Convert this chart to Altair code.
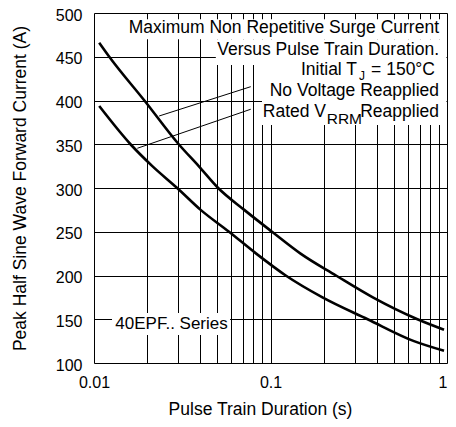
import altair as alt
import pandas as pd

# ---- data ----
x_grid = [0.01, 0.02, 0.03, 0.04, 0.05, 0.06, 0.07, 0.08, 0.09,
          0.1, 0.2, 0.3, 0.4, 0.5, 0.6, 0.7, 0.8, 0.9, 1]
x_label_values = [0.01, 0.1, 1]
x_label_texts = ["0.01", "0.1", "1"]
y_ticks = [100, 150, 200, 250, 300, 350, 400, 450, 500]

# No Voltage Reapplied (upper curve)
upper_x = [0.0107, 0.0122, 0.0193, 0.0302, 0.0392, 0.0505, 0.071, 0.102,
           0.148, 0.235, 0.38, 0.68, 0.962]
upper_y = [466, 450, 400, 350, 325, 300, 275, 250, 225, 200, 175, 150, 138]

# Rated VRRM Reapplied (lower curve)
lower_x = [0.0107, 0.0161, 0.0214, 0.0296, 0.0402, 0.0582, 0.083,
           0.122, 0.197, 0.355, 0.65, 0.962]
lower_y = [393.7, 350, 325, 300, 275, 250, 225, 200, 175, 150, 125, 114]

# leader lines (from curve to label)
leader_x = [0.0234, 0.0176]
leader_x2 = [0.0773, 0.0773]
leader_y = [382.3, 345.4]
leader_y2 = [415.8, 390.0]

# white label backgrounds
box_x = [0.0155, 0.049, 0.0895, 0.01265]
box_x2 = [0.993, 0.993, 0.993, 0.059]
box_y = [470, 440.6, 372, 132]
box_y2 = [493, 470, 440.6, 157.1]

FONT = "Liberation Sans"

curves = pd.DataFrame({
    "x": upper_x + lower_x,
    "y": upper_y + lower_y,
    "series": ["No Voltage Reapplied"] * len(upper_x) + ["Rated VRRM Reapplied"] * len(lower_x),
})
leaders = pd.DataFrame({"x": leader_x, "x2": leader_x2, "y": leader_y, "y2": leader_y2})
boxes = pd.DataFrame({"x": box_x, "x2": box_x2, "y": box_y, "y2": box_y2})

label_expr = " : ".join(
    f"datum.value == {v} ? '{t}'" for v, t in zip(x_label_values, x_label_texts)
) + " : ''"

X = alt.X("x:Q",
          scale=alt.Scale(type="log", domain=[0.01, 1]),
          axis=alt.Axis(values=x_grid, labelExpr=label_expr, labelFlush=False,
                        labelOverlap=False, ticks=False, domain=False,
                        labelAlign={"condition": {"test": f"datum.value == {x_label_values[-1]}",
                                                  "value": "right"},
                                    "value": "center"},
                        grid=True, gridColor="black", gridOpacity=1, gridWidth=1,
                        labelFont=FONT, labelFontSize=16, labelColor="black",
                        labelPadding=11,
                        title="Pulse Train Duration (s)", titleFont=FONT,
                        titleFontSize=17.5, titleFontWeight="normal",
                        titleColor="black", titlePadding=10, titleX=166))
Y = alt.Y("y:Q",
          scale=alt.Scale(domain=[100, 500]),
          axis=alt.Axis(values=y_ticks, ticks=False, domain=False,
                        grid=True, gridColor="black", gridOpacity=1, gridWidth=1,
                        labelFont=FONT, labelFontSize=16, labelColor="black",
                        labelPadding=12, labelOffset=2,
                        title="Peak Half Sine Wave Forward Current (A)",
                        titleFont=FONT, titleFontSize=17.5,
                        titleFontWeight="normal", titleColor="black",
                        titlePadding=26))

lines = alt.Chart(curves).mark_line(color="black", strokeWidth=2.6,
                                    interpolate="monotone").encode(
    x=X, y=Y, detail="series:N")

rects = alt.Chart(boxes).mark_rect(color="white", opacity=1).encode(
    x=X, x2="x2:Q", y=Y, y2="y2:Q")

rules = alt.Chart(leaders).mark_rule(color="black", strokeWidth=1).encode(
    x=X, x2="x2:Q", y=Y, y2="y2:Q")


def txt(text, x, y, align="right", dx=0, dy=0, size=17.5, baseline="alphabetic"):
    df = pd.DataFrame({"x": [x], "y": [y], "t": [text]})
    return alt.Chart(df).mark_text(
        align=align, baseline=baseline, dx=dx, dy=dy, font=FONT,
        fontSize=size, color="black").encode(x=X, y=Y, text="t:N")


texts = [
    txt("Maximum Non Repetitive Surge Current", 1, 476.8, dx=-8),
    txt("Versus Pulse Train Duration.", 1, 452.0, dx=-8),
    txt("= 150°C", 1, 429.1, dx=-12),
    txt("J", 1, 429.1, dx=-82, dy=5, size=12),
    txt("Initial T", 1, 429.1, dx=-90),
    txt("No Voltage Reapplied", 1, 405.1, dx=-8),
    txt("Reapplied", 1, 381.5, dx=-8),
    txt("RRM", 1, 381.5, dx=-85, dy=7, size=15.5),
    txt("Rated V", 1, 381.5, dx=-121),
    txt("40EPF.. Series", 0.0275, 144.6, align="center", baseline="middle", size=17),
]

chart = alt.layer(rects, lines, rules, *texts).properties(
    width=353, height=350,
    autosize=alt.AutoSizeParams(type="none"),
    padding={"left": 86, "top": 5, "right": 1, "bottom": 56},
).configure_view(stroke="black", strokeWidth=1).configure(background="white")

chart.save("out.html", embed_options={"renderer": "svg", "actions": False})
